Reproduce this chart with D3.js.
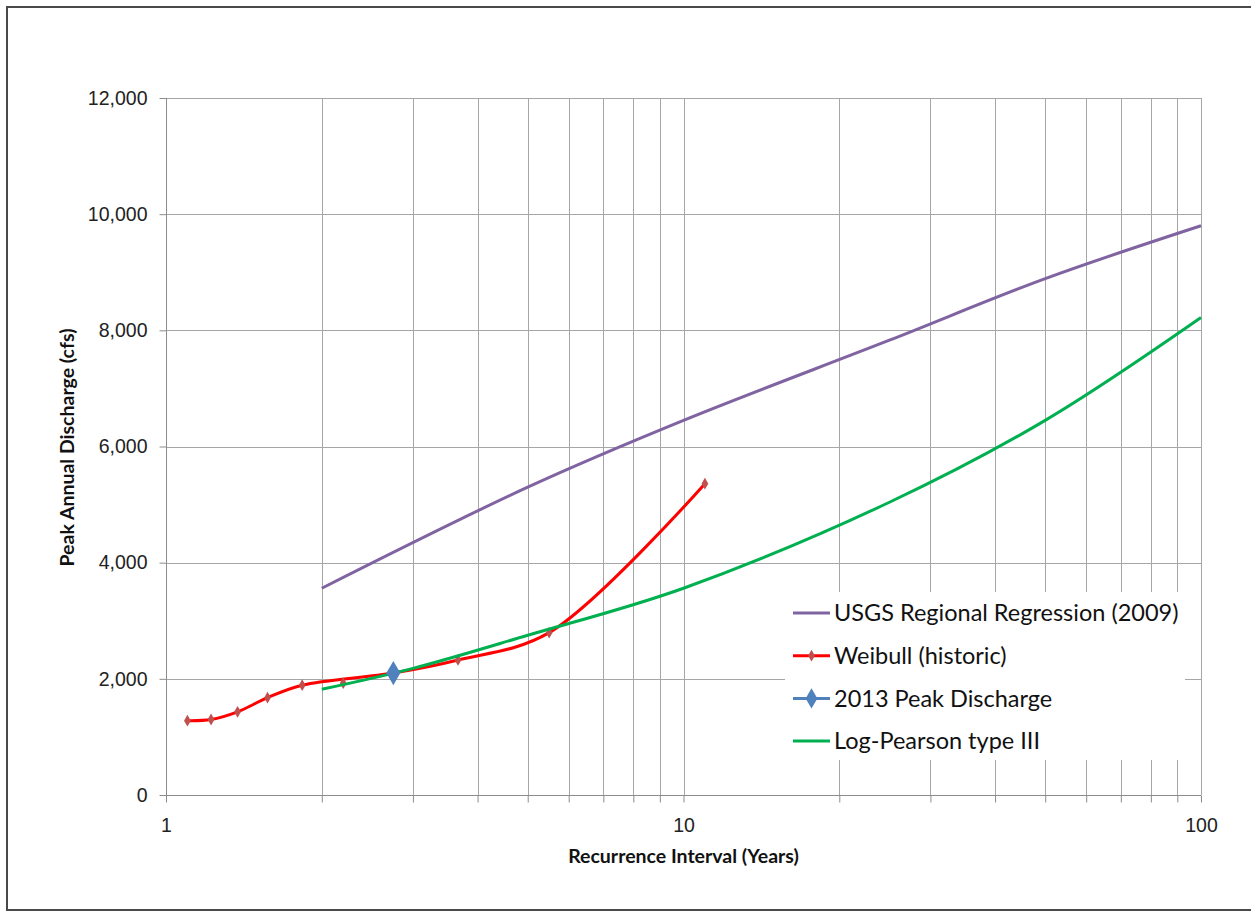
<!DOCTYPE html>
<html>
<head>
<meta charset="utf-8">
<script src="https://cdn.jsdelivr.net/npm/d3@7"></script>
<style>
  body { margin: 0; background: #fff; }
  svg { display: block; font-family: Lato, "Open Sans", sans-serif; }
  .grid line { stroke: #a6a6a6; stroke-width: 1; }
  .axis path, .axis line { stroke: #8c8c8c; }
  .axis text { font-size: 19.5px; fill: #222; }
  .titles { font-size: 19.5px; font-weight: bold; fill: #111; }
  .legend text { font-size: 23.5px; fill: #111; }
</style>
</head>
<body>
<svg id="chart" width="1251" height="912"></svg>
<script>

// recurrence interval (years) and peak discharge (cfs)
var usgsT = [2, 5, 10, 25, 50, 100];
var usgsQ = [3560, 5300, 6450, 7830, 8890, 9800];

var weibullT = [1.1, 1.222, 1.375, 1.571, 1.833, 2.75, 3.667, 5.5, 11];
var weibullQ = [1280, 1300, 1432, 1675, 1890, 2100, 2325, 2795, 5360];

// lone weibull marker sitting on the log-pearson line
var weibullExtraT = [2.2];
var weibullExtraQ = [1925];

var peak2013T = [2.75];
var peak2013Q = [2100];

var lp3T = [2, 3, 5, 10, 25, 50, 100];
var lp3Q = [1820, 2180, 2750, 3560, 5040, 6450, 8220];

var yTicks = [0, 2000, 4000, 6000, 8000, 10000, 12000];
var xTicks = [1, 10, 100];

var seriesNames = ["USGS Regional Regression (2009)", "Weibull (historic)", "2013 Peak Discharge", "Log-Pearson type III"];
var seriesColors = ["#8064a2", "#ff0000", "#4f81bd", "#00b050"];

var svg = d3.select("#chart");

// outer frame
svg.append("rect")
  .attr("x", 7).attr("y", 7)
  .attr("width", 1250).attr("height", 903)
  .attr("fill", "none")
  .attr("stroke", "#4a4a4a")
  .attr("stroke-width", 2);

var margin = {top: 98, right: 50, bottom: 117, left: 166};
var width = 1201 - margin.left,
    height = 795 - margin.top;

var g = svg.append("g").attr("transform", "translate(" + margin.left + "," + margin.top + ")");

// scales
var x = d3.scaleLog().domain([1, 100]).range([0, width]);
var y = d3.scaleLinear().domain([0, 12000]).range([height, 0]);

// every 1..9 per decade
var minor = [];
[1, 10].forEach(function(d) {
  for (var k = 1; k < 10; k++) minor.push(d * k);
});
minor.push(100);

// gridlines
var grid = g.append("g").attr("class", "grid");
grid.selectAll("line.v").data(minor.slice(1)).enter().append("line")
  .attr("class", "v")
  .attr("x1", function(d) { return Math.round(x(d)) + 0.5; })
  .attr("x2", function(d) { return Math.round(x(d)) + 0.5; })
  .attr("y1", 0).attr("y2", height);
grid.selectAll("line.h").data(yTicks.slice(1)).enter().append("line")
  .attr("class", "h")
  .attr("x1", 0).attr("x2", width)
  .attr("y1", function(d) { return Math.round(y(d)) + 0.5; })
  .attr("y2", function(d) { return Math.round(y(d)) + 0.5; });

// axes
var yaxis = g.append("g")
  .attr("class", "axis axis--y")
  .attr("transform", "translate(0.5,0)")
  .call(d3.axisLeft(y).tickValues(yTicks).tickSize(7).tickPadding(12).tickFormat(d3.format(",")));
yaxis.select(".domain").attr("d", "M0," + height + "V0");

var xaxis = g.append("g")
  .attr("class", "axis axis--x")
  .attr("transform", "translate(0," + (height + 0.5) + ")")
  .call(d3.axisBottom(x).tickValues(minor).tickSize(7).tickPadding(16)
    .tickFormat(function(d) { return xTicks.indexOf(d) >= 0 ? d : ""; }));
xaxis.select(".domain").attr("d", "M0,0H" + width);

g.append("text")
  .text("Recurrence Interval (Years)")
  .attr("class", "titles")
  .attr("text-anchor", "middle")
  .attr("transform", "translate(" + x(10) + "," + (height + 68) + ")");

g.append("text")
  .text("Peak Annual Discharge (cfs)")
  .attr("class", "titles")
  .attr("text-anchor", "middle")
  .attr("transform", "translate(" + -92 + "," + (y(6000) + 1) + ")rotate(-90)");

// legend box hides the grid behind it
g.append("rect")
  .attr("x", 785 - margin.left).attr("y", 592 - margin.top)
  .attr("width", 400).attr("height", 168)
  .attr("fill", "#fff");

// series
var line = d3.line()
  .x(function(d) { return x(d[0]); })
  .y(function(d) { return y(d[1]); })
  .curve(d3.curveCatmullRom.alpha(0.5));

var zip = function(a, b) { return a.map(function(v, i) { return [v, b[i]]; }); };

g.append("path")
  .datum(zip(usgsT, usgsQ))
  .attr("d", line)
  .attr("fill", "none")
  .attr("stroke", seriesColors[0])
  .attr("stroke-width", 3);

var weibull = zip(weibullT, weibullQ);
g.append("path")
  .datum(weibull)
  .attr("d", line)
  .attr("fill", "none")
  .attr("stroke", seriesColors[1])
  .attr("stroke-width", 3);

var diamond = d3.symbol().type(d3.symbolDiamond);

g.selectAll("path.wmark")
  .data(weibull.concat(zip(weibullExtraT, weibullExtraQ)))
  .enter().append("path")
  .attr("class", "wmark")
  .attr("d", diamond.size(40))
  .attr("fill", "#c0504d")
  .attr("transform", function(d) { return "translate(" + x(d[0]) + "," + y(d[1]) + ")"; });

g.append("path")
  .datum(zip(lp3T, lp3Q))
  .attr("d", line)
  .attr("fill", "none")
  .attr("stroke", seriesColors[3])
  .attr("stroke-width", 3);

g.selectAll("path.peak")
  .data(zip(peak2013T, peak2013Q))
  .enter().append("path")
  .attr("class", "peak")
  .attr("d", d3.symbol().type(d3.symbolDiamond).size(170))
  .attr("fill", seriesColors[2])
  .attr("transform", function(d) { return "translate(" + x(d[0]) + "," + y(d[1]) + ")"; });

// legend
var legend = svg.append("g")
  .attr("class", "legend")
  .attr("transform", "translate(793,613)");

var item = legend.selectAll("g.item")
  .data(seriesNames)
  .enter().append("g")
  .attr("class", "item")
  .attr("transform", function(d, i) { return "translate(0," + (i * 42.7) + ")"; });

item.append("line")
  .attr("x1", 0).attr("x2", 37)
  .attr("stroke", function(d, i) { return seriesColors[i]; })
  .attr("stroke-width", 3);

item.filter(function(d, i) { return i == 1; }).append("path")
  .attr("d", diamond.size(40))
  .attr("fill", "#c0504d")
  .attr("transform", "translate(18.5,0)");

item.filter(function(d, i) { return i == 2; }).append("path")
  .attr("d", d3.symbol().type(d3.symbolDiamond).size(120))
  .attr("fill", seriesColors[2])
  .attr("transform", "translate(18.5,0)");

item.append("text")
  .text(function(d) { return d; })
  .attr("x", 41)
  .attr("dy", "0.35em");

</script>
</body>
</html>
